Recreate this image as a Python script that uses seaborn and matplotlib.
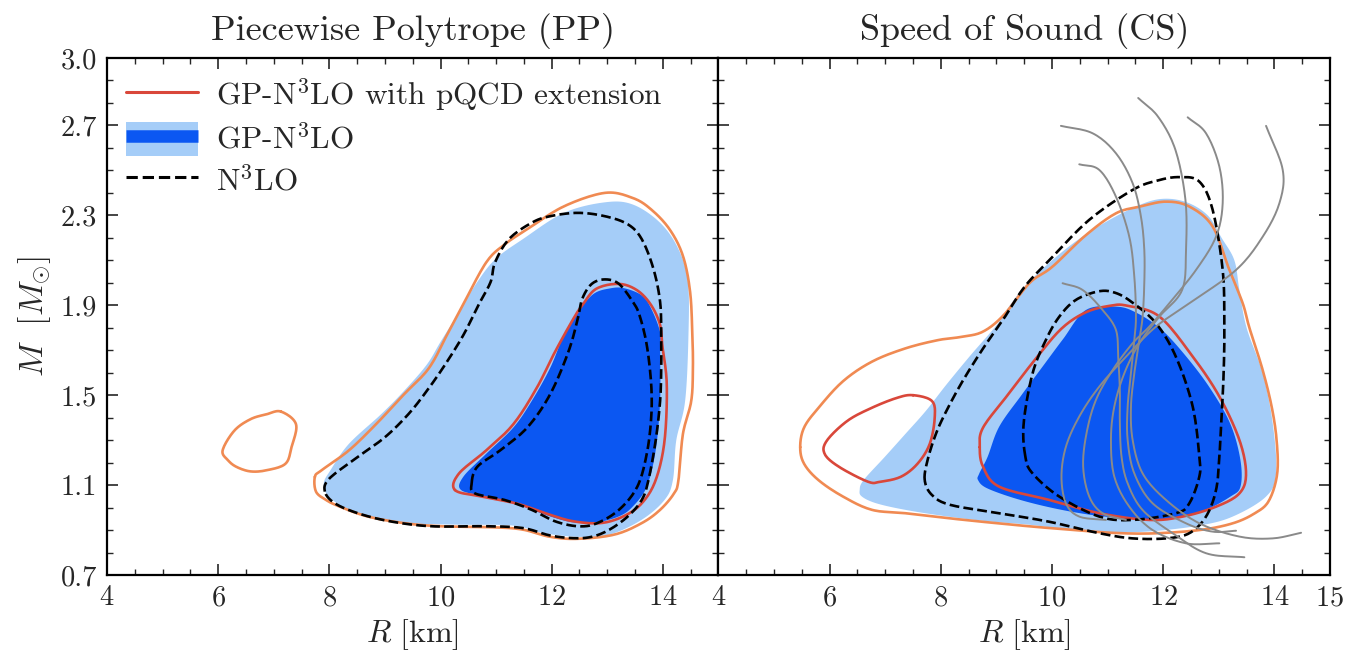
import numpy as np
import pandas as pd
import matplotlib
matplotlib.use("Agg")
import matplotlib.pyplot as plt
import seaborn as sns
from matplotlib.lines import Line2D
from matplotlib.patches import Patch
from matplotlib.legend_handler import HandlerTuple
from matplotlib.ticker import MultipleLocator, FixedLocator

# ---------------- data (R [km], M [Msun]) ----------------
# Left panel: Piecewise Polytrope (PP)
pp_gp95_R = [7.90, 8.02, 8.35, 8.93, 9.34, 9.75, 10.00, 10.33, 10.66, 10.99, 11.48, 12.22, 12.96, 13.46, 13.95, 14.28, 14.45,
             14.46, 14.40, 14.24, 14.18, 14.03, 13.62, 13.04, 12.47, 11.81, 11.31, 10.33, 9.50, 8.93, 8.35, 7.99]
pp_gp95_M = [1.107, 1.166, 1.283, 1.415, 1.518, 1.635, 1.737, 1.869, 2.003, 2.106, 2.194, 2.311, 2.358, 2.348, 2.267, 2.150, 2.003,
             1.768, 1.474, 1.298, 1.122, 1.034, 0.946, 0.880, 0.870, 0.888, 0.920, 0.924, 0.929, 0.946, 0.990, 1.049]
pp_gp68_R = [10.37, 10.41, 10.82, 11.31, 11.64, 11.97, 12.22, 12.47, 12.75, 13.05, 13.30, 13.62, 13.79, 13.95, 13.95, 13.95,
             13.87, 13.71, 13.46, 13.21, 12.80, 12.39, 11.97, 11.40, 10.82]
pp_gp68_M = [1.078, 1.137, 1.239, 1.356, 1.474, 1.620, 1.767, 1.869, 1.950, 1.975, 1.976, 1.944, 1.885, 1.780, 1.693, 1.474,
             1.254, 1.093, 1.005, 0.961, 0.934, 0.934, 0.961, 1.012, 1.049]
pp_pq95_R = [7.74, 7.86, 8.35, 8.84, 9.34, 9.79, 10.12, 10.40, 10.82, 11.15, 11.56, 12.22, 12.96, 13.46, 13.79, 14.12, 14.36,
             14.49, 14.53, 14.54, 14.51, 14.36, 14.28, 14.20, 13.95, 13.62, 13.13, 12.47, 11.97, 11.48, 10.98, 10.00,
             9.34, 8.68, 8.18, 7.94, 7.76]
pp_pq95_M = [1.137, 1.166, 1.254, 1.371, 1.503, 1.620, 1.770, 1.900, 2.090, 2.170, 2.238, 2.340, 2.400, 2.377, 2.326, 2.238, 2.120,
             1.959, 1.768, 1.620, 1.474, 1.327, 1.122, 1.063, 0.990, 0.931, 0.880, 0.861, 0.870, 0.902, 0.912, 0.917,
             0.931, 0.961, 1.005, 1.034, 1.071]
pp_pq95_island_R = [7.13, 7.40, 7.32, 7.21, 6.87, 6.58, 6.33, 6.18, 6.08, 6.29, 6.58, 6.87]
pp_pq95_island_M = [1.427, 1.371, 1.269, 1.195, 1.166, 1.161, 1.181, 1.210, 1.254, 1.342, 1.393, 1.415]
pp_pq68_R = [10.26, 10.33, 10.82, 11.31, 11.73, 12.06, 12.39, 12.55, 12.80, 13.21, 13.54, 13.79, 13.95, 13.99, 14.07, 14.03,
             13.87, 13.62, 13.29, 12.88, 12.39, 11.97, 11.40, 10.74]
pp_pq68_M = [1.078, 1.151, 1.254, 1.371, 1.532, 1.693, 1.840, 1.900, 1.973, 1.995, 1.966, 1.900, 1.812, 1.720, 1.547, 1.298,
             1.122, 1.019, 0.961, 0.931, 0.939, 0.968, 1.016, 1.049]
pp_n3_95_R = [7.92, 8.00, 8.51, 9.00, 9.42, 9.75, 10.08, 10.41, 10.68, 10.90, 10.98, 11.23, 11.64, 11.97, 12.47, 12.96, 13.37,
              13.62, 13.83, 13.95, 13.97, 13.97, 13.95, 13.87, 13.74, 13.62, 13.37, 13.04, 12.72, 12.39, 11.97, 11.48,
              10.82, 9.83, 9.09, 8.51, 8.10]
pp_n3_95_M = [1.071, 1.129, 1.225, 1.313, 1.415, 1.518, 1.635, 1.767, 1.900, 2.003, 2.090, 2.194, 2.267, 2.296, 2.311, 2.296, 2.260,
              2.194, 2.062, 1.915, 1.768, 1.620, 1.474, 1.298, 1.122, 1.034, 0.961, 0.902, 0.870, 0.864, 0.876, 0.909,
              0.917, 0.917, 0.939, 0.975, 1.019]
pp_n3_68_R = [10.56, 10.66, 11.07, 11.56, 11.97, 12.30, 12.47, 12.55, 12.72, 12.96, 13.21, 13.46, 13.58, 13.71, 13.79, 13.79,
              13.71, 13.54, 13.21, 12.80, 12.47, 12.06, 11.64, 11.15, 10.62]
pp_n3_68_M = [1.107, 1.181, 1.254, 1.356, 1.503, 1.693, 1.841, 1.929, 1.995, 2.015, 1.995, 1.915, 1.855, 1.723, 1.547, 1.401,
              1.239, 1.093, 0.990, 0.929, 0.917, 0.939, 0.990, 1.034, 1.063]

# Right panel: Speed of Sound (CS)
cs_gp95_R = [6.54, 6.61, 6.99, 7.36, 7.73, 8.10, 8.54, 9.00, 9.28, 9.58, 10.17, 10.76, 11.43, 11.93, 12.40, 12.80, 13.05, 13.28,
             13.37, 13.50, 13.79, 13.97, 14.03, 13.85, 13.25, 12.65, 11.80, 11.06, 10.32, 9.58, 8.84, 8.10, 7.36, 6.84, 6.58]
cs_gp95_M = [1.078, 1.122, 1.225, 1.327, 1.430, 1.547, 1.679, 1.811, 1.913, 2.003, 2.135, 2.240, 2.330, 2.372, 2.360, 2.300, 2.200, 2.100,
             1.968, 1.800, 1.597, 1.375, 1.152, 1.049, 0.960, 0.920, 0.895, 0.890, 0.902, 0.924, 0.939, 0.961, 0.990, 1.019, 1.049]
cs_gp68_R = [8.67, 8.69, 8.84, 9.05, 9.45, 9.83, 10.20, 10.61, 11.15, 11.50, 11.95, 12.39, 12.84, 13.21, 13.39, 13.39, 13.21,
             12.76, 12.17, 11.65, 10.91, 10.17, 9.43, 8.84]
cs_gp68_M = [1.122, 1.151, 1.225, 1.360, 1.500, 1.627, 1.750, 1.879, 1.894, 1.869, 1.796, 1.679, 1.532, 1.371, 1.210, 1.093, 1.049,
             0.990, 0.953, 0.949, 0.961, 0.990, 1.034, 1.085]
cs_pq95_R = [5.47, 5.54, 5.80, 6.24, 6.76, 7.36, 8.39, 9.58, 10.32, 11.06, 11.80, 12.65, 13.25, 13.65, 13.90, 14.05, 14.04, 13.95,
             13.78, 13.55, 13.43, 13.19, 12.89, 12.47, 12.05, 11.60, 11.15, 10.60, 10.00, 9.60, 9.13, 8.76, 8.39, 7.95,
             7.36, 6.76, 6.24, 5.80, 5.54]
cs_pq95_M = [1.269, 1.195, 1.122, 1.049, 0.990, 0.975, 0.946, 0.917, 0.902, 0.888, 0.885, 0.900, 0.930, 0.975, 1.030, 1.150, 1.300, 1.450,
             1.620, 1.800, 1.909, 2.057, 2.250, 2.339, 2.361, 2.340, 2.309, 2.210, 2.070, 2.000, 1.856, 1.783, 1.760, 1.745,
             1.708, 1.649, 1.562, 1.444, 1.356]
cs_pq68_R = [8.70, 8.76, 9.20, 9.70, 10.17, 10.61, 11.05, 11.35, 11.93, 12.53, 13.01, 13.37, 13.49, 13.37, 12.95, 12.35, 11.75,
             10.85, 9.95, 9.05, 8.76]
cs_pq68_M = [1.269, 1.356, 1.500, 1.660, 1.796, 1.869, 1.898, 1.898, 1.850, 1.672, 1.494, 1.301, 1.152, 1.063, 1.004, 0.960, 0.945,
             0.975, 1.034, 1.093, 1.181]
cs_pq68_island_R = [7.50, 7.84, 7.89, 7.80, 7.58, 7.28, 6.91, 6.69, 6.17, 5.91, 5.95, 6.32, 6.76, 7.21]
cs_pq68_island_M = [1.500, 1.474, 1.400, 1.283, 1.195, 1.137, 1.115, 1.115, 1.181, 1.239, 1.298, 1.386, 1.444, 1.488]
cs_n3_95_R = [7.71, 7.76, 7.91, 8.10, 8.39, 8.76, 9.13, 9.50, 9.95, 10.67, 11.45, 11.90, 12.29, 12.65, 12.89, 13.07, 13.10, 13.09,
              13.06, 13.01, 12.95, 12.77, 12.47, 12.05, 11.45, 10.85, 9.95, 9.05, 8.17, 7.84]
cs_n3_95_M = [1.122, 1.210, 1.327, 1.430, 1.562, 1.708, 1.840, 1.980, 2.100, 2.280, 2.413, 2.455, 2.470, 2.450, 2.324, 2.057, 1.820, 1.620,
              1.450, 1.227, 1.078, 0.960, 0.886, 0.863, 0.863, 0.886, 0.937, 0.975, 1.012, 1.056]
cs_n3_68_R = [9.52, 9.49, 9.65, 9.89, 10.13, 10.43, 10.84, 11.13, 11.43, 11.87, 12.23, 12.53, 12.65, 12.65, 12.47, 12.23, 11.45,
              10.85, 10.13, 9.65]
cs_n3_68_M = [1.227, 1.375, 1.597, 1.746, 1.849, 1.924, 1.962, 1.956, 1.915, 1.820, 1.670, 1.450, 1.227, 1.138, 1.019, 0.975, 0.945,
              0.960, 1.049, 1.152]

# Right panel: individual M-R curves (grey)
eos_a_R = [13.85, 14.15, 14.09, 13.79, 13.31, 12.47, 11.87, 11.33, 10.85, 10.49, 10.25, 10.17, 10.25, 10.49, 10.97]
eos_a_M = [2.698, 2.502, 2.354, 2.205, 2.057, 1.909, 1.805, 1.671, 1.538, 1.405, 1.271, 1.138, 1.019, 0.960, 0.945]
eos_b_R = [12.44, 12.77, 13.01, 13.07, 12.95, 12.59, 12.11, 11.75, 11.45, 11.09, 10.79, 10.62, 10.56, 10.67, 10.91, 11.33]
eos_b_M = [2.736, 2.665, 2.517, 2.354, 2.205, 2.057, 1.909, 1.805, 1.731, 1.612, 1.479, 1.330, 1.182, 1.049, 0.975, 0.945]
eos_c_R = [11.55, 11.91, 12.22, 12.40, 12.41, 12.34, 11.93, 11.57, 11.30, 11.12, 11.06, 11.12, 11.39, 11.81, 12.41, 13.01]
eos_c_M = [2.822, 2.738, 2.591, 2.369, 2.146, 1.968, 1.849, 1.731, 1.597, 1.449, 1.301, 1.138, 1.004, 0.900, 0.841, 0.841]
eos_d_R = [10.19, 10.55, 10.91, 11.15, 11.19, 11.22, 11.22, 11.25, 11.36, 11.63, 12.17, 12.77, 13.46]
eos_d_M = [1.998, 1.968, 1.879, 1.790, 1.671, 1.523, 1.375, 1.227, 1.108, 0.989, 0.886, 0.797, 0.779]
eos_e_R = [10.49, 10.85, 11.15, 11.39, 11.48, 11.51, 11.48, 11.42, 11.36, 11.36, 11.48, 11.81, 12.41, 12.89, 13.31]
eos_e_M = [2.527, 2.502, 2.383, 2.205, 2.028, 1.850, 1.746, 1.597, 1.449, 1.301, 1.152, 1.019, 0.930, 0.893, 0.897]
eos_f_R = [10.16, 10.73, 11.15, 11.45, 11.60, 11.66, 11.66, 11.63, 11.57, 11.48, 11.42, 11.45, 11.63, 12.05, 12.65, 13.37, 13.97, 14.48]
eos_f_M = [2.698, 2.665, 2.576, 2.443, 2.294, 2.146, 1.998, 1.850, 1.746, 1.597, 1.449, 1.301, 1.152, 1.034, 0.930, 0.871, 0.863, 0.888]

panel_titles = ["Piecewise Polytrope (PP)", "Speed of Sound (CS)"]
legend_labels = [r"GP-N$^3$LO with pQCD extension", r"GP-N$^3$LO", r"N$^3$LO"]
x_ticks_left = [4, 6, 8, 10, 12, 14]
x_ticks_right = [4, 6, 8, 10, 12, 14, 15]
y_ticks = [0.7, 1.1, 1.5, 1.9, 2.3, 2.7, 3.0]

# ---------------- style ----------------
LIGHT = "#a5cdf8"
DARK = "#0b57f2"
ORANGE = "#f08a52"
RED = "#d9473a"
GREY = "#8a8a8a"

sns.set_style("ticks")
plt.rcParams.update({
    "font.family": "serif",
    "font.serif": ["cmr10", "DejaVu Serif"],
    "mathtext.fontset": "cm",
    "axes.formatter.use_mathtext": True,
    "axes.unicode_minus": False,
    "xtick.direction": "in",
    "ytick.direction": "in",
    "xtick.top": True,
    "ytick.right": True,
    "axes.linewidth": 1.6,
    "axes.edgecolor": "black",
})


def smooth(r, m, close=True, n=12):
    """Catmull-Rom rendering of a traced outline (passes through every read point)."""
    p = np.column_stack([r, m]).astype(float)
    if close:
        ext = np.vstack([p[-1], p, p[0], p[1]])
    else:
        ext = np.vstack([2 * p[0] - p[1], p, 2 * p[-1] - p[-2]])
    out = []
    t = np.linspace(0, 1, n, endpoint=False)[:, None]
    for i in range(1, len(ext) - 2):
        p0, p1, p2, p3 = ext[i - 1], ext[i], ext[i + 1], ext[i + 2]
        seg = 0.5 * ((2 * p1) + (-p0 + p2) * t + (2 * p0 - 5 * p1 + 4 * p2 - p3) * t ** 2
                     + (-p0 + 3 * p1 - 3 * p2 + p3) * t ** 3)
        out.append(seg)
    out.append(ext[-2][None, :])
    out = np.vstack(out)
    return out[:, 0], out[:, 1]


def draw_line(ax, r, m, close=True, **kw):
    rs, ms = smooth(r, m, close)
    df = pd.DataFrame({"R": rs, "M": ms})
    sns.lineplot(data=df, x="R", y="M", sort=False, estimator=None, ax=ax, **kw)


def draw_fill(ax, r, m, **kw):
    rs, ms = smooth(r, m, True)
    ax.fill(rs, ms, lw=0, **kw)


fig, axes = plt.subplots(1, 2, figsize=(13.49, 6.58), dpi=100, sharey=True)
fig.subplots_adjust(left=0.0793, right=0.9859, top=0.9119, bottom=0.1261, wspace=0)

LW = 1.9
# Left panel
ax = axes[0]
draw_fill(ax, pp_gp95_R, pp_gp95_M, color=LIGHT, zorder=1)
draw_fill(ax, pp_gp68_R, pp_gp68_M, color=DARK, zorder=2)
draw_line(ax, pp_pq95_R, pp_pq95_M, color=ORANGE, lw=LW, zorder=3)
draw_line(ax, pp_pq95_island_R, pp_pq95_island_M, color=ORANGE, lw=LW, zorder=3)
draw_line(ax, pp_pq68_R, pp_pq68_M, color=RED, lw=LW, zorder=3)
draw_line(ax, pp_n3_95_R, pp_n3_95_M, color="black", lw=LW, ls="--", zorder=4)
draw_line(ax, pp_n3_68_R, pp_n3_68_M, color="black", lw=LW, ls="--", zorder=4)

# Right panel
ax = axes[1]
draw_fill(ax, cs_gp95_R, cs_gp95_M, color=LIGHT, zorder=1)
draw_fill(ax, cs_gp68_R, cs_gp68_M, color=DARK, zorder=2)
draw_line(ax, cs_pq95_R, cs_pq95_M, color=ORANGE, lw=LW, zorder=3)
draw_line(ax, cs_pq68_R, cs_pq68_M, color=RED, lw=LW, zorder=3)
draw_line(ax, cs_pq68_island_R, cs_pq68_island_M, color=RED, lw=LW, zorder=3)
draw_line(ax, cs_n3_95_R, cs_n3_95_M, color="black", lw=LW, ls="--", zorder=4)
draw_line(ax, cs_n3_68_R, cs_n3_68_M, color="black", lw=LW, ls="--", zorder=4)
for er, em in [(eos_a_R, eos_a_M), (eos_b_R, eos_b_M), (eos_c_R, eos_c_M),
               (eos_d_R, eos_d_M), (eos_e_R, eos_e_M), (eos_f_R, eos_f_M)]:
    draw_line(ax, er, em, close=False, color=GREY, lw=1.4, zorder=5)

for i, ax in enumerate(axes):
    ax.set_xlim(4, 15)
    ax.set_ylim(0.7, 3.0)
    ax.xaxis.set_major_locator(FixedLocator(x_ticks_left if i == 0 else x_ticks_right))
    ax.xaxis.set_minor_locator(MultipleLocator(0.5))
    ax.yaxis.set_major_locator(FixedLocator(y_ticks))
    ax.yaxis.set_minor_locator(MultipleLocator(0.1))
    ax.tick_params(which="major", length=8, width=1.2, labelsize=20.5, pad=7)
    ax.tick_params(which="minor", length=4.5, width=1.0)
    ax.tick_params(which="both", direction="in", top=True, right=True)
    ax.set_xlabel(r"$R\ [\mathrm{km}]$", fontsize=23, labelpad=4)
    ax.set_title(panel_titles[i], fontsize=26, pad=13)
    for s in ax.spines.values():
        s.set_linewidth(1.6)

axes[0].set_ylabel(r"$M\ \ [M_{\odot}]$", fontsize=24, labelpad=6)
axes[1].set_ylabel("")
axes[1].tick_params(labelleft=False)
axes[0].set_yticklabels([f"{v:.1f}" for v in y_ticks])

handles = [
    Line2D([], [], color=RED, lw=2.2),
    (Patch(facecolor=LIGHT, edgecolor="none"), Line2D([], [], color=DARK, lw=9, solid_capstyle="butt")),
    Line2D([], [], color="black", lw=2.2, ls="--"),
]
axes[0].legend(handles, legend_labels, loc="upper left", bbox_to_anchor=(0.0, 1.0), frameon=False,
               fontsize=22.5, handlelength=2.3, handleheight=1.3, handletextpad=0.6, labelspacing=0.25,
               borderaxespad=0.2, handler_map={tuple: HandlerTuple(ndivide=1)})

fig.savefig("out.png", dpi=100)
